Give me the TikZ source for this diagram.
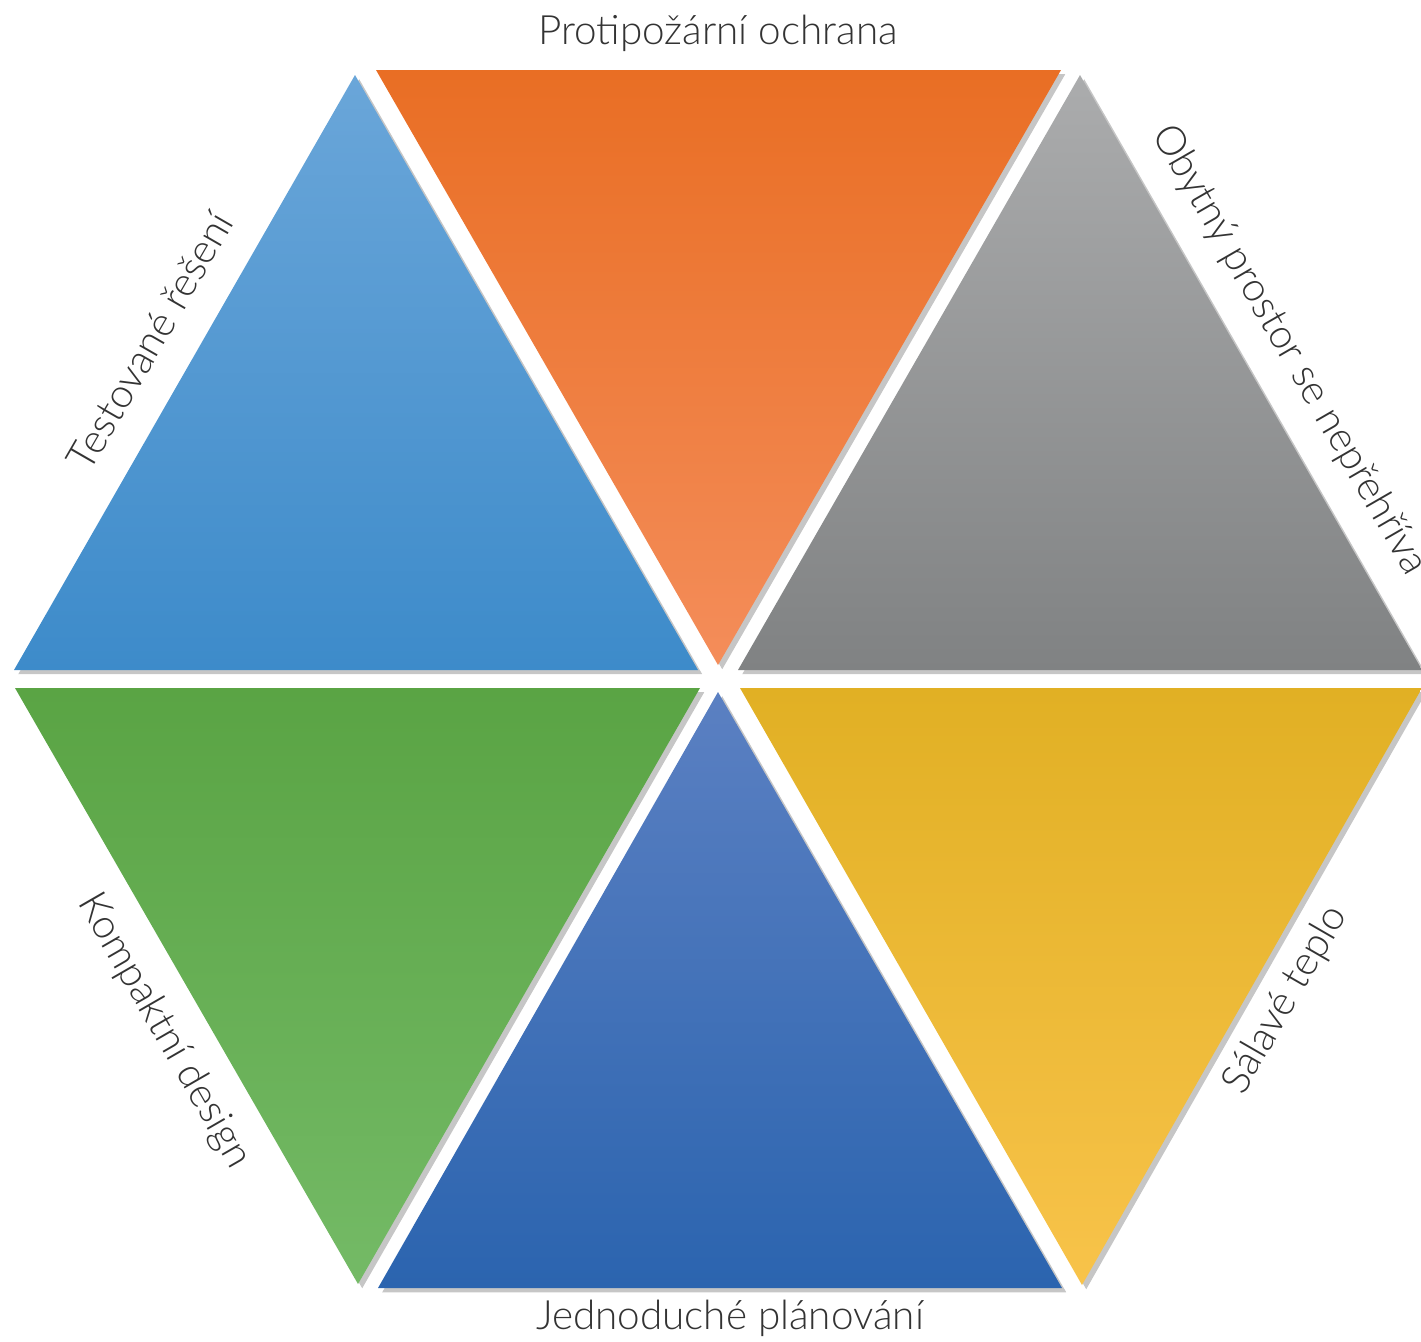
\documentclass[tikz,border=0pt]{standalone}
\usepackage{fontspec}
\setmainfont{Lato Light}
\usetikzlibrary{shadows}
\definecolor{bluetop}{RGB}{106,166,217}
\definecolor{bluebot}{RGB}{61,139,202}
\definecolor{orangetop}{RGB}{233,110,36}
\definecolor{orangebot}{RGB}{244,141,90}
\definecolor{graytop}{RGB}{171,172,173}
\definecolor{graybot}{RGB}{128,130,131}
\definecolor{greentop}{RGB}{90,164,68}
\definecolor{greenbot}{RGB}{116,186,102}
\definecolor{navytop}{RGB}{91,128,194}
\definecolor{navybot}{RGB}{43,100,175}
\definecolor{yellowtop}{RGB}{225,176,36}
\definecolor{yellowmid}{RGB}{253,195,36}
\definecolor{yellowbot}{RGB}{248,195,74}
\definecolor{textgray}{RGB}{51,51,51}
\tikzset{%
  % Specifications for style of triangles:
          piece/.style = {drop shadow={shadow xshift=1.2pt, shadow yshift=-1.2pt,
                          opacity=0.45}},
       bluepiece/.style = {piece, top color=bluetop, bottom color=bluebot},
     orangepiece/.style = {piece, top color=orangetop, bottom color=orangebot},
       graypiece/.style = {piece, top color=graytop, bottom color=graybot},
      greenpiece/.style = {piece, top color=greentop, bottom color=greenbot},
       navypiece/.style = {piece, top color=navytop, bottom color=navybot},
     yellowpiece/.style = {piece, top color=yellowtop, middle color=yellowmid,
                          bottom color=yellowbot},
          label/.style = {text=textgray, font=\fontsize{11.5}{14}\selectfont,
                          inner sep=0pt}
}
\begin{document}
\begin{tikzpicture}[x=0.01cm, y=-0.01cm]
  \useasboundingbox (0,0) rectangle (1421,1341);
  % Upper half of the hexagon
  \shade[bluepiece]   (355,75) -- (14,670) -- (698,670) -- cycle;
  \shade[orangepiece] (376,70) -- (1061,70) -- (718,665) -- cycle;
  \shade[graypiece]   (1080,75) -- (738,670) -- (1422,670) -- cycle;
  % Lower half of the hexagon
  \shade[greenpiece]  (15,688) -- (700,688) -- (358,1284) -- cycle;
  \shade[navypiece]   (718,692) -- (378,1288) -- (1062,1288) -- cycle;
  \shade[yellowpiece] (740,688) -- (1422,688) -- (1082,1285) -- cycle;
  % Labels round the hexagon
  \node (fire)    [label] at (718,33) {Protipožární ochrana};
  \node (tested)  [label, rotate=60] at (150,341) {Testované řešení};
  \node (living)  [label, rotate=-60] at (1289,350) {Obytný prostor se nepřehřívá};
  \node (compact) [label, rotate=-60] at (164,1031) {Kompaktní design};
  \node (radiant) [label, rotate=60] at (1286,1000) {Sálavé teplo};
  \node (plan)    [label] at (730,1318) {Jednoduché plánování};
\end{tikzpicture}
\end{document}
